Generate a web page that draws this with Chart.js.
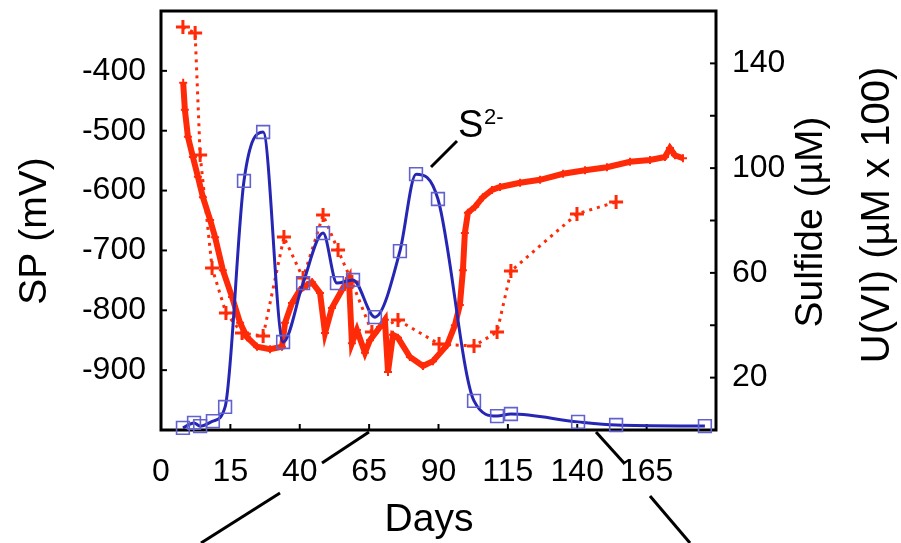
<!DOCTYPE html>
<html>
<head>
<meta charset="utf-8">
<script src="https://cdn.jsdelivr.net/npm/chart.js@4.4.1/dist/chart.umd.min.js"></script>
<style>
  html, body { margin: 0; padding: 0; background: #fff; }
  #wrap { width: 901px; height: 543px; }
</style>
</head>
<body>
<div id="wrap"><canvas id="chart" width="901" height="543"></canvas></div>
<script>
// Axis ticks (the left end of the day axis is labelled "0" in the figure)
const xTickValues = [-10, 15, 40, 65, 90, 115, 140, 165];
const xTickLabels = ["0", "15", "40", "65", "90", "115", "140", "165"];
const spTickLabels = [-400, -500, -600, -700, -800, -900];
const rightTickLabels = [20, 60, 100, 140];

// SP (mV), left axis - dense electrode trace
const spDays = [-2, -1.4, -0.3, 1.5, 3.3, 5.1, 7.7, 9.5, 12.3, 15.6, 18.5, 21, 24.6, 29.3, 33.6,
  34.7, 37.2, 40.1, 42.6, 44.4, 47.3, 49.1, 51.6, 55.2, 57.7, 58.8, 60.6, 63.5, 65.3, 68.9,
  70.7, 71.8, 73.6, 75.4, 79.7, 84.4, 88, 93.1, 95.9, 97.7, 98.8, 99.5, 100.6, 103.2, 106,
  109.3, 112.2, 119.4, 126.6, 134.9, 142.8, 150.7, 159, 166.2, 171.6, 173.4, 175.2, 178.1];
const spValues = [-420, -465, -510, -544, -577, -611, -649, -678, -733, -778, -821, -845, -861, -865, -861,
  -821, -788, -766, -758, -753, -771, -838, -796, -766, -746, -855, -833, -871, -850, -828,
  -816, -903, -841, -846, -878, -893, -885, -858, -825, -791, -733, -671, -637, -627, -611,
  -599, -594, -587, -582, -572, -566, -561, -552, -549, -544, -529, -541, -546];

// U(VI) (uM x 100), right axis
const uDays = [-2.1, 2.3, 4.1, 8.4, 13.4, 19.2, 26.8, 34.3, 41.2, 48.4, 53.8, 58.8, 66, 75.4,
  90.2, 102.8, 111.1, 116.1, 139.9, 154];
const uValues = [153.9, 151.6, 105, 61.9, 44.7, 37, 35.9, 73.7, 58, 82.1, 68.7, 56.5, 37.4, 42,
  32.8, 32.1, 37.4, 60.7, 82.5, 87.1];

// Sulfide (uM), right axis
const sDays = [-2.1, 1.9, 4.1, 8.7, 13.1, 19.9, 26.8, 34, 41.2, 48.4, 53.4, 59.2, 67.1, 76.1,
  81.9, 89.8, 102.8, 111.1, 116.1, 140.3, 154, 186];
const sValues = [0.8, 2.7, 1.5, 3.4, 8.8, 95.1, 113.8, 33.6, 56.1, 75.2, 56.1, 57.3, 43.1, 68.3,
  97.7, 88.2, 11.1, 5.3, 6.1, 3.1, 1.9, 1.5];

const RED = "rgb(255, 42, 8)";
const BLUE_LINE = "rgb(38, 38, 180)";
const BLUE_MARK = "rgb(98, 98, 206)";
const FONT = "'Liberation Sans', Arial, sans-serif";

const toXY = (xs, ys) => xs.map((x, i) => ({ x: x, y: ys[i] }));

// box round the plot and inward tick marks
const framePlugin = {
  id: "frame",
  beforeDatasetsDraw(chart) {
    const { ctx, chartArea: a, scales } = chart;
    ctx.save();
    ctx.strokeStyle = "#000";
    ctx.lineWidth = 2;
    const len = 6;
    scales.x.ticks.forEach((t) => {
      if (t.value <= scales.x.min || t.value >= scales.x.max) return;
      const px = scales.x.getPixelForValue(t.value);
      ctx.beginPath();
      ctx.moveTo(px, a.bottom);
      ctx.lineTo(px, a.bottom - len);
      ctx.stroke();
    });
    scales.ySP.ticks.forEach((t) => {
      if (t.value <= scales.ySP.min || t.value >= scales.ySP.max) return;
      const py = scales.ySP.getPixelForValue(t.value);
      ctx.beginPath();
      ctx.moveTo(a.left, py);
      ctx.lineTo(a.left + len, py);
      ctx.stroke();
    });
    scales.yR.ticks.forEach((t) => {
      if (t.value <= scales.yR.min || t.value >= scales.yR.max) return;
      const py = scales.yR.getPixelForValue(t.value);
      ctx.beginPath();
      ctx.moveTo(a.right, py);
      ctx.lineTo(a.right - len, py);
      ctx.stroke();
    });
    ctx.lineWidth = 3;
    ctx.strokeRect(a.left, a.top, a.right - a.left, a.bottom - a.top);
    ctx.restore();
  },
};

// axis titles, S2- label and the callout lines below the axis
const textPlugin = {
  id: "texts",
  afterDraw(chart) {
    const { ctx } = chart;
    ctx.save();
    ctx.fillStyle = "#000";
    ctx.textAlign = "center";
    ctx.textBaseline = "middle";
    ctx.font = "39px " + FONT;

    const vertical = (text, x, y) => {
      ctx.save();
      ctx.translate(x, y);
      ctx.rotate(-Math.PI / 2);
      ctx.fillText(text, 0, 0);
      ctx.restore();
    };
    vertical("SP (mV)", 35, 231);
    vertical("Sulfide (\u00b5M)", 811, 222);
    ctx.font = "40px " + FONT;
    vertical("U(VI) (\u00b5M x 100)", 878, 215);
    ctx.font = "39px " + FONT;
    ctx.fillText("Days", 429, 520);

    // S2- label
    ctx.textAlign = "left";
    ctx.textBaseline = "alphabetic";
    ctx.font = "38px " + FONT;
    ctx.fillText("S", 458, 137);
    ctx.font = "22px " + FONT;
    ctx.fillText("2-", 484, 124);

    ctx.strokeStyle = "#000";
    ctx.lineWidth = 3;
    const seg = (x1, y1, x2, y2) => {
      ctx.beginPath();
      ctx.moveTo(x1, y1);
      ctx.lineTo(x2, y2);
      ctx.stroke();
    };
    seg(431, 167, 457, 141);
    seg(369, 432, 322, 463);
    seg(280, 493, 201, 543);
    seg(596, 432, 624, 463);
    seg(650, 496, 690, 543);
    ctx.restore();
  },
};

const noEdgePadding = (scale) => {
  scale.paddingTop = 0;
  scale.paddingBottom = 0;
};

new Chart(document.getElementById("chart"), {
  type: "line",
  data: {
    datasets: [
      {
        label: "S2-",
        data: toXY(sDays, sValues),
        yAxisID: "yR",
        borderColor: BLUE_LINE,
        borderWidth: 3,
        cubicInterpolationMode: "monotone",
        pointStyle: "rect",
        pointRadius: 9,
        pointBorderWidth: 1.6,
        pointBorderColor: BLUE_MARK,
        pointBackgroundColor: "rgba(0,0,0,0)",
        clip: false,
        order: 1,
      },
      {
        label: "U(VI)",
        data: toXY(uDays, uValues),
        yAxisID: "yR",
        borderColor: RED,
        borderWidth: 3,
        borderDash: [3, 5],
        tension: 0,
        pointStyle: "cross",
        pointRadius: 7,
        pointBorderWidth: 3,
        pointBorderColor: RED,
        order: 2,
      },
      {
        label: "SP",
        data: toXY(spDays, spValues),
        yAxisID: "ySP",
        borderColor: RED,
        borderWidth: 6,
        tension: 0,
        pointStyle: "cross",
        pointRadius: 4,
        pointBorderWidth: 2,
        pointBorderColor: RED,
        order: 3,
      },
    ],
  },
  options: {
    responsive: false,
    animation: false,
    devicePixelRatio: 1,
    layout: { padding: { top: 11, left: 0, right: 0, bottom: 0 } },
    plugins: { legend: { display: false }, tooltip: { enabled: false } },
    scales: {
      x: {
        type: "linear",
        min: -10,
        max: 190,
        afterBuildTicks: (scale) => {
          scale.ticks = xTickValues.map((v) => ({ value: v }));
        },
        afterFit: (scale) => {
          scale.height = 113;
          scale.paddingLeft = 0;
          scale.paddingRight = 0;
        },
        grid: { display: false, drawTicks: false },
        border: { display: false },
        ticks: {
          padding: 23,
          maxRotation: 0,
          autoSkip: false,
          color: "#000",
          font: { family: FONT, size: 32 },
          callback: (v) => {
            const i = xTickValues.indexOf(v);
            return i >= 0 ? xTickLabels[i] : "";
          },
        },
      },
      ySP: {
        type: "linear",
        position: "left",
        min: -1000,
        max: -300,
        afterFit: (scale) => {
          scale.width = 161;
          noEdgePadding(scale);
        },
        grid: { display: false, drawTicks: false },
        border: { display: false },
        ticks: {
          stepSize: 100,
          padding: 15,
          color: "#000",
          font: { family: FONT, size: 32 },
          callback: (v) => (spTickLabels.includes(v) ? String(v) : ""),
        },
      },
      yR: {
        type: "linear",
        position: "right",
        min: 0,
        max: 160,
        afterFit: (scale) => {
          scale.width = 185;
          noEdgePadding(scale);
        },
        grid: { display: false, drawTicks: false },
        border: { display: false },
        ticks: {
          stepSize: 20,
          padding: 16,
          color: "#000",
          font: { family: FONT, size: 32 },
          callback: (v) => (rightTickLabels.includes(v) ? String(v) : ""),
        },
      },
    },
  },
  plugins: [framePlugin, textPlugin],
});
</script>
</body>
</html>
